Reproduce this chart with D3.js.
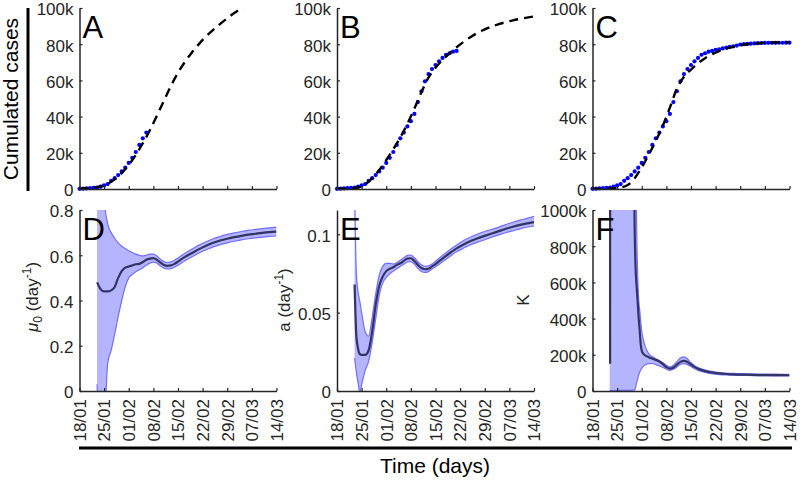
<!DOCTYPE html>
<html><head><meta charset="utf-8">
<script src="https://cdn.jsdelivr.net/npm/d3@7"></script>
<style>
body{margin:0;background:#fff;}
svg{display:block;font-family:"Liberation Sans",Arial,Helvetica,sans-serif;}
</style></head><body>
<svg id="chart" width="800" height="482"></svg>
<script>
// ---------------- DATA ----------------
const tickDays = [0, 7, 14, 21, 28, 35, 42, 49, 56];
const tickLabels = ["18/01","25/01","01/02","08/02","15/02","22/02","29/02","07/03","14/03"];

// cumulated cases, one value per day starting 18/01
const cases = [121,198,291,440,571,830,1287,1975,2744,4515,
  5974,7711,9692,11791,14380,17205,20438,24324,28018,31161,
  34546,37500,41500,48000,54000,59500,63500,66300,68500,70548,
  72436,74185,75002,75891,76288,76936,77150,77658,78064,78497,
  78824,79251,79824,80026,80151,80270,80409,80552,80651,80695,
  80735,80754,80778,80793,80813,80824,80844];
const lastDayA = 19, lastDayB = 34, lastDayC = 56;

const fitDays = [0,2,4,6,8,10,12,14,16,18,20,22,24,26,28,30,32,34,36,38,40,42,44,46,48,50,52,54,56];
const fitA = [200,400,800,1500,2900,5300,8800,13300,18800,25300,32500,40500,48800,57000,64200,70300,75600,80200,84300,87900,91200,94300,97200,99900,102300,104400,106200,107700,109000];
const fitB = [100,200,400,900,2500,6000,10500,16000,22000,28500,36000,44500,53500,61500,67000,71300,75000,78300,81300,84000,86300,88200,89800,91100,92200,93200,94000,94700,95300];
const fitC = [50,100,200,400,800,2200,6000,12000,19000,26500,35000,45000,55500,62000,66000,69500,72300,74500,76200,77500,78500,79400,80000,80400,80700,80900,81000,81100,81100];

// mu0
const dDays = [5,6,7,8,9,10,11,12,13,14,15,16,17,18,19,20,21,22,23,24,25,26,27,28,29,30,32,34,36,38,40,42,44,46,48,50,52,54,56];
const dMean = [0.48,0.45,0.44,0.44,0.445,0.46,0.50,0.53,0.545,0.55,
  0.555,0.56,0.562,0.57,0.58,0.585,0.587,0.58,0.567,0.557,
  0.553,0.555,0.562,0.572,0.583,0.593,
  0.61,0.627,0.642,0.655,0.665,0.673,0.68,0.686,0.691,0.695,0.699,0.702,0.704];
const dUpper = [1.5,1.2,0.85,0.74,0.70,0.675,0.655,0.64,0.63,0.62,
  0.612,0.605,0.600,0.597,0.600,0.605,0.605,0.597,0.582,0.572,
  0.568,0.571,0.578,0.588,0.599,0.609,
  0.627,0.645,0.66,0.673,0.683,0.692,0.699,0.705,0.71,0.714,0.718,0.721,0.724];
const dLower = [0.03,-0.3,-0.2,0.12,0.18,0.25,0.33,0.40,0.46,0.50,
  0.515,0.527,0.535,0.545,0.556,0.565,0.57,0.565,0.552,0.543,
  0.54,0.541,0.547,0.556,0.566,0.576,
  0.593,0.61,0.624,0.637,0.647,0.655,0.662,0.668,0.673,0.677,0.68,0.683,0.685];

// a
const eDays = [5,5.5,6,6.5,7,8,9,10,11,12,13,14,15,16,17,18,19,20,21,22,23,24,25,26,27,28,30,32,34,36,38,40,42,44,46,48,50,52,54,56];
const eMean = [0.068,0.035,0.027,0.0235,0.023,
  0.023,0.026,0.038,0.055,0.067,0.073,0.0765,0.078,0.079,0.0805,0.0815,0.083,0.0845,0.0847,0.083,0.0805,0.0785,0.0777,0.078,0.0795,0.081,
  0.0845,0.0879,0.091,0.0935,0.0957,0.0975,0.099,0.1005,0.102,0.1035,0.1048,0.106,0.107,0.1078];
const eUpper = [0.13,0.075,0.063,0.057,0.05,
  0.038,0.035,0.047,0.062,0.074,0.0795,0.0815,0.0815,0.081,0.082,0.0835,0.085,0.0865,0.0868,0.085,0.0826,0.0805,0.0795,0.0798,0.081,0.0828,
  0.0865,0.09,0.0932,0.096,0.0983,0.1002,0.1018,0.1032,0.1046,0.1062,0.1077,0.109,0.1102,0.1115];
const eLower = [0.021,0.012,0.005,-0.001,0.004,
  0.013,0.019,0.031,0.046,0.061,0.069,0.0725,0.0748,0.0765,0.078,0.0795,0.081,0.0823,0.0826,0.081,0.0783,0.0763,0.0757,0.0762,0.0778,0.0793,
  0.0825,0.0857,0.0888,0.0912,0.0933,0.095,0.0965,0.0982,0.0996,0.101,0.1022,0.1035,0.1045,0.1053];

// K (thousands)
const fDays = [5,5.2,11.6,11.9,12.2,12.5,12.8,13.1,13.4,13.7,14,14.5,15,16,17,18,19,20,21,22,23,24,25,26,27,28,29,30,32,34,36,38,40,44,48,52,56];
const fMean = [150,30000,30000,1050,705,590,503,410,337,260,222,205,197,187,179,172,163,148,132,124,130,146,161,166,160,146,133,123,110,102,97,94,92,90,88,87.5,87];
const fbDays = [4.9,5,12,12.5,13,13.5,14,14.5,15,16,17,18,19,20,21,22,23,24,25,26,27,28,29,30,32,34,36,38,40,44,48,52,56];
const fUpper = [30000,30000,30000,1000,558,430,330,280,245,
  205,190,178,168,157,142,133,142,162,182,188,177,156,140,130,
  116,108,102,99,97,95,94,93,92];
const fLower = [0,2,5,42,80,108,125,137,145,
  151,152,146,138,130,120,114,120,133,148,151,146,135,123,114,
  102,95,91,88.5,87,85.5,85,84,83];

// ---------------- DRAWING ----------------
const svg = d3.select("#chart");
const AX = "#262626";
const W = 197;
const colX = [79.5, 337, 592.5];
const rows = [{top:8, bottom:189}, {top:210, bottom:391}];
const defs = svg.append("defs");

function panel(id, col, row, yDomain, yTicks, yFmt, showXLabels){
  const x = d3.scaleLinear().domain([0,56]).range([colX[col], colX[col]+W]);
  const y = d3.scaleLinear().domain(yDomain).range([rows[row].bottom, rows[row].top]);
  defs.append("clipPath").attr("id","clip"+id).append("rect")
    .attr("x", colX[col]).attr("y", rows[row].top).attr("width", W).attr("height", rows[row].bottom-rows[row].top);
  const g = svg.append("g");
  const data = g.append("g").attr("clip-path", "url(#clip"+id+")");
  const axes = svg.append("g").attr("class","axes");
  const ya = axes.append("g").attr("transform", `translate(${colX[col]},0)`)
    .call(d3.axisLeft(y).tickValues(yTicks).tickFormat(yFmt).tickSizeInner(-3).tickSizeOuter(0).tickPadding(6));
  const xa = axes.append("g").attr("transform", `translate(0,${rows[row].bottom})`)
    .call(d3.axisBottom(x).tickValues(tickDays).tickFormat((d,i)=> showXLabels ? tickLabels[i] : "").tickSizeInner(-3).tickSizeOuter(0));
  [ya, xa].forEach(a => {
    a.select(".domain").attr("stroke", AX).attr("stroke-width", 1.5);
    a.selectAll(".tick line").attr("stroke", AX).attr("stroke-width", 1.2);
    a.selectAll("text").attr("fill", AX).attr("font-size", 17).attr("font-family", '"Liberation Sans",Arial,sans-serif');
  });
  ya.selectAll(".tick text").attr("dy", "0.4em");
  if (showXLabels){
    xa.selectAll(".tick text").attr("y", 0).attr("dy", "0.34em").attr("x", -8)
      .attr("transform", "rotate(-90)").attr("text-anchor", "end");
  }
  svg.append("text").attr("x", colX[col]+3).attr("y", rows[row].top+30)
    .attr("font-size", 31).attr("fill", "#000").text(id);
  return {x, y, data, g};
}

const kFmt = d => d === 0 ? "0" : (d/1000) + "k";
const caseTicks = [0,20000,40000,60000,80000,100000];

function casePanel(id, col, lastDay, fit){
  const p = panel(id, col, 0, [0,100000], caseTicks, kFmt, false);
  const pts = cases.slice(0, lastDay+1).map((v,i)=>[i,v]);
  p.g.insert("g", ":first-child").selectAll("circle").data(pts).join("circle")
    .attr("cx", d=>p.x(d[0])).attr("cy", d=>p.y(d[1])).attr("r", 2.1).attr("fill", "#0000ff");
  const line = d3.line().x(d=>p.x(d[0])).y(d=>p.y(d[1])).curve(d3.curveMonotoneX);
  p.data.append("path").datum(fitDays.map((d,i)=>[d, fit[i]]))
    .attr("d", line).attr("fill","none").attr("stroke","#000").attr("stroke-width",2.4)
    .attr("stroke-dasharray","9,6");
}
casePanel("A", 0, lastDayA, fitA);
casePanel("B", 1, lastDayB, fitB);
casePanel("C", 2, lastDayC, fitC);

function bandPanel(id, col, yDomain, yTicks, yFmt, mDays, mean, bDays, upper, lower){
  const p = panel(id, col, 1, yDomain, yTicks, yFmt, true);
  const pts = bDays.map((d,i)=>({d, u:upper[i], l:lower[i]}));
  const area = d3.area().x(d=>p.x(d.d)).y0(d=>p.y(d.l)).y1(d=>p.y(d.u)).curve(d3.curveMonotoneX);
  p.data.append("path").datum(pts).attr("d", area).attr("fill", "#b4b4ff").attr("stroke","none");
  const line = d3.line().x(d=>p.x(d[0])).y(d=>p.y(d[1])).curve(d3.curveMonotoneX);
  [upper, lower].forEach(arr => {
    p.data.append("path").datum(bDays.map((d,i)=>[d, arr[i]])).attr("d", line)
      .attr("fill","none").attr("stroke","#7070ff").attr("stroke-width",1.2);
  });
  p.data.append("path").datum(mDays.map((d,i)=>[d, mean[i]])).attr("d", line)
    .attr("fill","none").attr("stroke","#333366").attr("stroke-width",2.2);
}
bandPanel("D", 0, [0,0.8], [0,0.2,0.4,0.6,0.8], d => d===0 ? "0" : d3.format(".1f")(d),
  dDays, dMean, dDays, dUpper, dLower);
bandPanel("E", 1, [0,0.1155], [0,0.05,0.1], d => d===0 ? "0" : String(d),
  eDays, eMean, eDays, eUpper, eLower);
bandPanel("F", 2, [0,1000], [0,200,400,600,800,1000], d => d===0 ? "0" : d + "k",
  fDays, fMean, fbDays, fUpper, fLower);

// ---------------- LABELS ----------------
svg.append("text").attr("transform","translate(18,99) rotate(-90)").attr("text-anchor","middle")
  .attr("font-size",21).attr("fill","#000").text("Cumulated cases");
svg.append("line").attr("x1",28).attr("x2",28).attr("y1",8).attr("y2",191).attr("stroke","#000").attr("stroke-width",3);

const muL = svg.append("text").attr("transform","translate(38,297) rotate(-90)").attr("text-anchor","middle")
  .attr("font-size",17).attr("fill",AX);
muL.append("tspan").attr("font-style","italic").text("\u03bc");
muL.append("tspan").attr("font-size",12).attr("dy",4).text("0");
muL.append("tspan").attr("dy",-4).text(" (day");
muL.append("tspan").attr("font-size",12).attr("dy",-7).text("-1");
muL.append("tspan").attr("dy",7).text(")");

const aL = svg.append("text").attr("transform","translate(290,300) rotate(-90)").attr("text-anchor","middle")
  .attr("font-size",17).attr("fill",AX);
aL.append("tspan").text("a (day");
aL.append("tspan").attr("font-size",12).attr("dy",-7).text("-1");
aL.append("tspan").attr("dy",7).text(")");

svg.append("text").attr("transform","translate(529,300) rotate(-90)").attr("text-anchor","middle")
  .attr("font-size",17).attr("fill",AX).text("K");

svg.append("line").attr("x1",79).attr("x2",792).attr("y1",448).attr("y2",448).attr("stroke","#000").attr("stroke-width",3);
svg.append("text").attr("x",435).attr("y",473).attr("text-anchor","middle").attr("font-size",21).attr("fill","#000").text("Time (days)");
</script>
</body></html>
